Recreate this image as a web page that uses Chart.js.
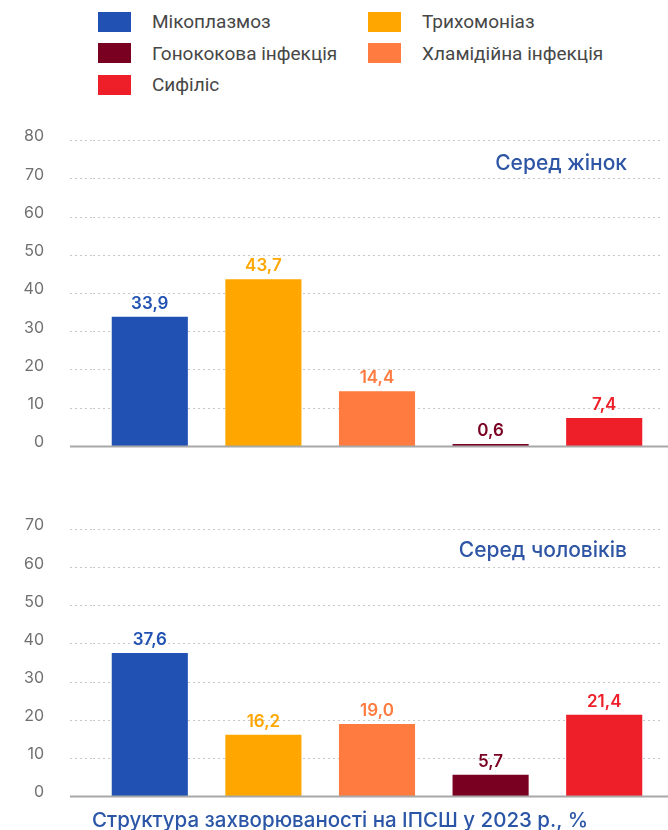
<!DOCTYPE html>
<html>
<head>
<meta charset="utf-8">
<script src="https://cdn.jsdelivr.net/npm/chart.js"></script>
<style>
  body { margin: 0; width: 668px; height: 830px; background: #fff; position: relative; overflow: hidden; font-family: Roboto, sans-serif; }
  .legend { position: absolute; left: 98px; top: 6px; display: grid; grid-template-columns: 270px 270px; }
  .item { display: flex; align-items: center; height: 31.5px; font-size: 19px; color: #474747; }
  .box { width: 33px; height: 20px; margin-right: 21px; flex: none; }
  .chart { position: absolute; left: 0; width: 668px; }
  .sub { position: absolute; right: 41px; font-family: Inter, sans-serif; font-size: 21px; font-weight: 500; color: #2f56a5; line-height: 26px; }
  .title { position: absolute; left: 92px; white-space: nowrap; top: 806px; font-family: Inter, sans-serif; font-size: 20.5px; font-weight: 500; color: #2b56a7; line-height: 28px; }
</style>
</head>
<body>
<div class="legend" id="legend"></div>

<div class="chart" style="top:105px;height:377px"><canvas id="womenChart"></canvas></div>
<div class="sub" style="top:150px">Серед жінок</div>

<div class="chart" style="top:494px;height:338px"><canvas id="menChart"></canvas></div>
<div class="sub" style="top:537px">Серед чоловіків</div>

<div class="title">Структура захворюваності на ІПСШ у 2023 р., %</div>

<script>
// дані
const categories = ['Мікоплазмоз', 'Трихомоніаз', 'Хламідійна інфекція', 'Гонококова інфекція', 'Сифіліс'];
const women = [33.9, 43.7, 14.4, 0.6, 7.4];
const men = [37.6, 16.2, 19.0, 5.7, 21.4];
const womenMax = 80;
const menMax = 70;
const colors = ['#2152B3', '#FFA600', '#FF7B3F', '#7A0021', '#EE1F28'];
// порядок у легенді (два стовпці)
const legendOrder = [0, 1, 3, 2, 4];

// легенда
const legend = document.getElementById('legend');
legendOrder.forEach(i => {
  const item = document.createElement('div');
  item.className = 'item';
  item.innerHTML = '<span class="box" style="background:' + colors[i] + '"></span>' + categories[i];
  legend.appendChild(item);
});

// підписи значень над стовпчиками
const valueLabels = {
  id: 'valueLabels',
  afterDatasetsDraw(chart) {
    const ctx = chart.ctx;
    const values = chart.data.datasets[0].data;
    chart.getDatasetMeta(0).data.forEach((bar, i) => {
      ctx.save();
      ctx.fillStyle = colors[i];
      ctx.font = '600 17px Inter';
      ctx.textAlign = 'center';
      ctx.textBaseline = 'middle';
      ctx.fillText(values[i].toFixed(1).replace('.', ','), bar.x, bar.y - 13);
      ctx.restore();
    });
  }
};

// базова лінія на нулі
const baseline = {
  id: 'baseline',
  afterDatasetsDraw(chart) {
    const ctx = chart.ctx;
    const y = chart.scales.y.getPixelForValue(0);
    ctx.save();
    ctx.strokeStyle = '#a8a8a8';
    ctx.lineWidth = 2;
    ctx.beginPath();
    ctx.moveTo(70, y);
    ctx.lineTo(chart.width, y);
    ctx.stroke();
    ctx.restore();
  }
};

function makeChart(id, values, max) {
  const ctx = document.getElementById(id).getContext('2d');
  return new Chart(ctx, {
    type: 'bar',
    data: {
      labels: categories,
      datasets: [{
        data: values,
        backgroundColor: colors,
        barPercentage: 0.67,
        categoryPercentage: 1
      }]
    },
    options: {
      responsive: true,
      maintainAspectRatio: false,
      animation: false,
      layout: { padding: { top: 0, bottom: 0, right: 7, left: 0 } },
      plugins: { legend: { display: false }, tooltip: { enabled: false } },
      scales: {
        x: { display: false },
        y: {
          min: 0,
          max: max,
          ticks: {
            stepSize: 10,
            color: '#707070',
            font: { family: 'Inter', size: 16 },
            padding: 26,
            labelOffset: -4
          },
          grid: {
            color: c => c.tick && c.tick.value === 0 ? 'rgba(0,0,0,0)' : '#c8c8c8',
            tickColor: c => c.tick && c.tick.value === 0 ? 'rgba(0,0,0,0)' : '#c8c8c8',
            tickLength: 23,
            tickBorderDash: [2, 3],
            lineWidth: 1
          },
          border: { display: false, dash: [2, 3] },
          afterFit(scale) { scale.width = 93; }
        }
      }
    },
    plugins: [valueLabels, baseline]
  });
}

makeChart('womenChart', women, womenMax);
makeChart('menChart', men, menMax);
</script>
</body>
</html>
